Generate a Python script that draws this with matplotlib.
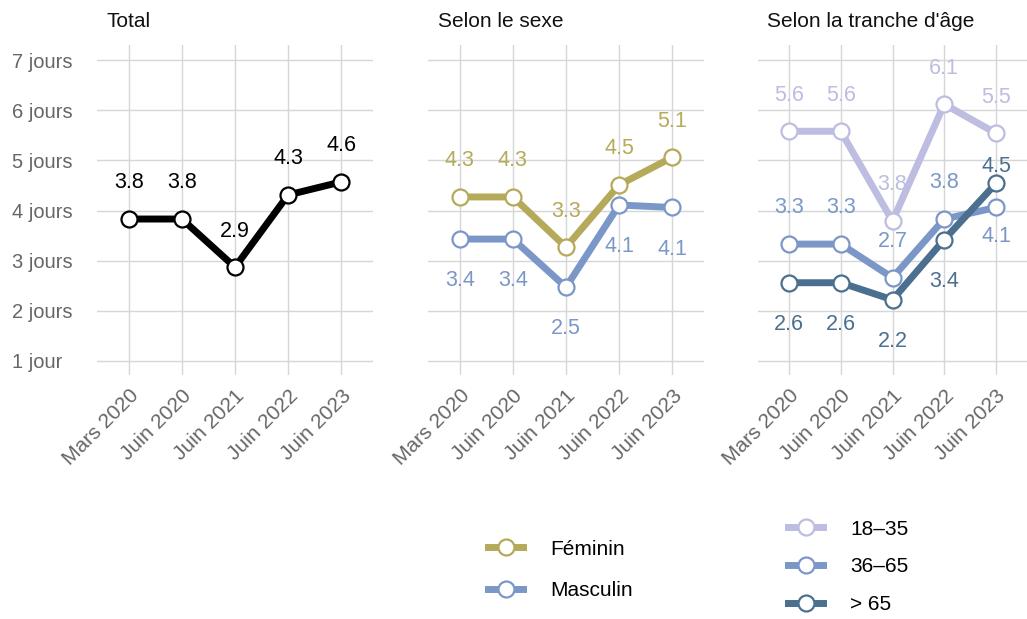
import matplotlib
matplotlib.use('Agg')
import matplotlib.pyplot as plt
import numpy as np

periods = ['Mars 2020', 'Juin 2020', 'Juin 2021', 'Juin 2022', 'Juin 2023']
y_ticks = [1, 2, 3, 4, 5, 6, 7]
y_tick_labels = ['1 jour', '2 jours', '3 jours', '4 jours', '5 jours', '6 jours', '7 jours']

total = [3.83, 3.83, 2.87, 4.31, 4.57]

feminin = [4.27, 4.27, 3.27, 4.51, 5.06]
masculin = [3.43, 3.43, 2.47, 4.11, 4.06]

age_18_35 = [5.58, 5.58, 3.79, 6.12, 5.54]
age_36_65 = [3.33, 3.33, 2.66, 3.83, 4.06]
age_65p = [2.56, 2.56, 2.22, 3.42, 4.54]

plt.rcParams['font.family'] = ['Liberation Sans', 'DejaVu Sans']

c_total = '#000000'
c_fem = '#b5aa59'
c_masc = '#7b97c8'
c_young = '#bcbde1'
c_mid = '#7b97c8'
c_old = '#4a6f8f'

grid_c = '#d6d6d6'
tick_c = '#666666'
FS = 14.5
FS_VAL = 15.5

fig = plt.figure(figsize=(10.27, 6.19), dpi=100)
W, H = 1027, 619


def make_ax(x0, x1, title):
    top, bottom = 45, 375
    ax = fig.add_axes([x0 / W, 1 - bottom / H, (x1 - x0) / W, (bottom - top) / H])
    ax.set_xlim(-0.6, 4.6)
    ax.set_ylim(0.72, 7.3)
    ax.set_xticks(range(len(periods)))
    ax.set_xticklabels(periods, rotation=45, ha='right', rotation_mode='anchor',
                       color=tick_c, fontsize=15)
    ax.set_yticks(y_ticks)
    ax.grid(True, color=grid_c, lw=1)
    ax.set_axisbelow(True)
    for s in ax.spines.values():
        s.set_visible(False)
    ax.tick_params(length=0, pad=8)
    ax.text(0.035, 1.07, title, transform=ax.transAxes, fontsize=15,
            ha='left', va='center', color='#111111')
    return ax


def draw(ax, values, color, offsets, label=None):
    x = np.arange(len(values))
    line, = ax.plot(x, values, color=color, lw=5, marker='o', ms=11.5,
                    mfc='white', mec=color, mew=1.6, label=label, zorder=3,
                    solid_joinstyle='miter')
    for xi, v, off in zip(x, values, offsets):
        ax.annotate(f'{v:.1f}', (xi, v), xytext=(0, off), textcoords='offset points',
                    ha='center', va='center', color=color, fontsize=FS_VAL, zorder=4)
    return line


ax1 = make_ax(97, 373, 'Total')
ax1.set_yticklabels(y_tick_labels, color=tick_c, fontsize=FS, ha='left')
ax1.tick_params(axis='y', pad=61)
draw(ax1, total, c_total, [26] * 5)

ax2 = make_ax(428, 704, 'Selon le sexe')
ax2.set_yticklabels([])
l_f = draw(ax2, feminin, c_fem, [26] * 5, 'Féminin')
l_m = draw(ax2, masculin, c_masc, [-30] * 5, 'Masculin')

ax3 = make_ax(758, 1027, "Selon la tranche d'âge")
ax3.set_yticklabels([])
l_y = draw(ax3, age_18_35, c_young, [26] * 5, '18–35')
l_mi = draw(ax3, age_36_65, c_mid, [26, 26, 26, 26, -21], '36–65')
l_o = draw(ax3, age_65p, c_old, [-30, -30, -30, -30, 12], '> 65')

leg_kw = dict(frameon=False, fontsize=15, handlelength=1.7, handletextpad=1.3,
              borderpad=0, borderaxespad=0, loc='center left')
fig.legend([l_f, l_m], ['Féminin', 'Masculin'], bbox_to_anchor=(488 / W, 1 - 570 / H),
           labelspacing=1.1, **leg_kw)
fig.legend([l_y, l_mi, l_o], ['18–35', '36–65', '> 65'], bbox_to_anchor=(788 / W, 1 - 567 / H),
           labelspacing=0.9, **leg_kw)

fig.savefig('out.png', dpi=100)
